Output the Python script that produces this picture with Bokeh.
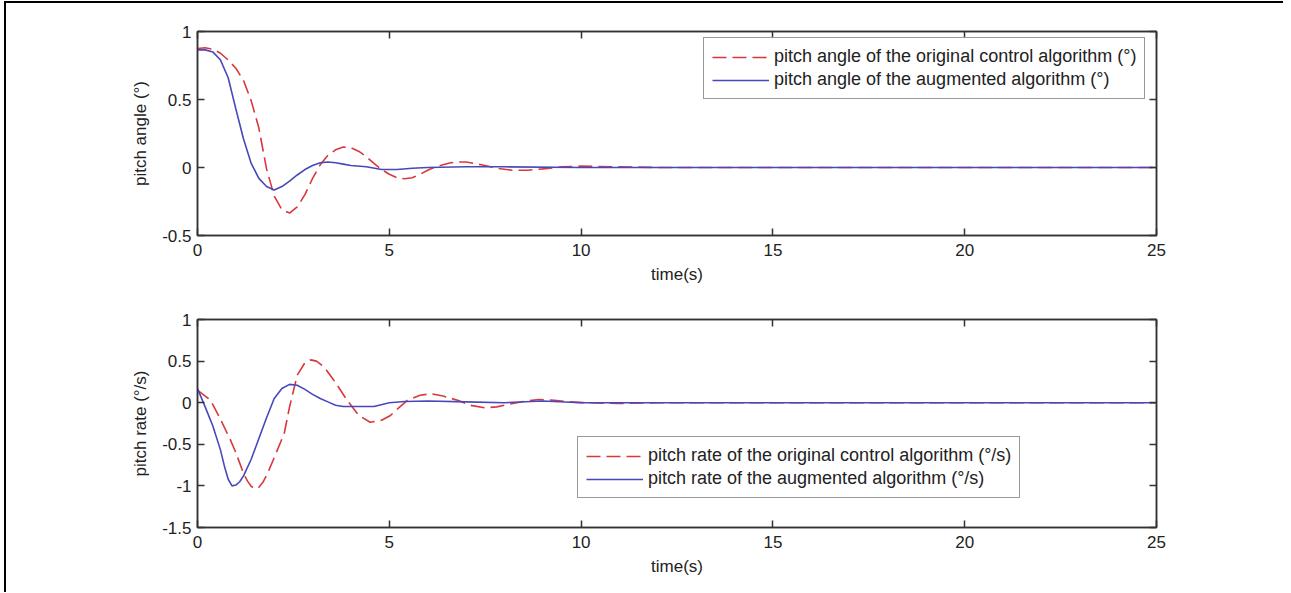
from bokeh.plotting import figure
from bokeh.models import Range1d, LinearAxis, FixedTicker, Legend, LegendItem, CustomJSTickFormatter
from bokeh.layouts import column
from bokeh.embed import file_html
from bokeh.resources import INLINE

# ---------------- data ----------------
x_ticks = [0, 5, 10, 15, 20, 25]
angle_ticks = [-0.5, 0, 0.5, 1]
rate_ticks = [-1.5, -1, -0.5, 0, 0.5, 1]

t_angle_orig = [0, 0.2, 0.4, 0.6, 0.8, 1.0, 1.2, 1.4, 1.6, 1.8, 2.0, 2.2, 2.4, 2.6, 2.8,
                3.0, 3.2, 3.4, 3.6, 3.8, 4.0, 4.2, 4.4, 4.6, 4.8, 5.0, 5.2, 5.4, 5.6, 5.8,
                6.0, 6.2, 6.4, 6.6, 6.8, 7.0, 7.4, 7.8, 8.2, 8.6, 9.0, 9.5, 10, 11, 12, 14, 25]
angle_orig = [0.875, 0.88, 0.87, 0.84, 0.79, 0.73, 0.64, 0.49, 0.29, -0.01, -0.21, -0.31, -0.335,
              -0.29, -0.20, -0.08, 0.02, 0.09, 0.13, 0.15, 0.145, 0.12, 0.08, 0.03, -0.015, -0.05,
              -0.075, -0.083, -0.075, -0.05, -0.02, 0.005, 0.02, 0.035, 0.04, 0.04, 0.02, -0.005,
              -0.02, -0.02, -0.01, 0.005, 0.01, 0.005, 0.0, 0.0, 0.0]

t_angle_aug = [0, 0.2, 0.4, 0.6, 0.8, 1.0, 1.2, 1.4, 1.6, 1.8, 2.0, 2.2, 2.4, 2.6, 2.8, 3.0,
               3.2, 3.4, 3.6, 3.8, 4.0, 4.4, 4.8, 5.2, 5.6, 6.0, 7.0, 8.0, 10, 25]
angle_aug = [0.865, 0.865, 0.85, 0.79, 0.66, 0.43, 0.21, 0.03, -0.08, -0.14, -0.165, -0.14,
             -0.10, -0.055, -0.015, 0.015, 0.035, 0.04, 0.035, 0.025, 0.015, 0.005, -0.015,
             -0.015, -0.005, 0.0, 0.005, 0.005, 0.0, 0.0]

t_rate_orig = [0, 0.2, 0.34, 0.6, 0.86, 1.0, 1.2, 1.3, 1.4, 1.5, 1.6, 1.7, 1.82, 2.0, 2.26, 2.4, 2.6,
               2.8, 2.95, 3.1, 3.3, 3.6, 3.9, 4.2, 4.5, 4.8, 5.03, 5.2, 5.47, 5.8, 6.1, 6.4,
               6.8, 7.1, 7.5, 7.8, 8.1, 8.5, 8.9, 9.3, 9.7, 10.1, 11, 12, 25]
rate_orig = [0.15, 0.08, 0.03, -0.2, -0.45, -0.6, -0.85, -0.94, -1.005, -1.035, -1.015, -0.96,
             -0.855, -0.66, -0.37, -0.05, 0.33, 0.48, 0.515, 0.5, 0.43, 0.24, 0.03, -0.15,
             -0.235, -0.21, -0.154, -0.08, 0.027, 0.09, 0.107, 0.08, 0.027, -0.03, -0.062,
             -0.05, -0.02, 0.015, 0.038, 0.03, 0.01, 0.0, -0.01, 0.0, 0.0]

t_rate_aug = [0, 0.2, 0.4, 0.6, 0.7, 0.8, 0.9, 1.0, 1.1, 1.2, 1.4, 1.6, 1.8, 2.0, 2.2, 2.4, 2.6, 2.8,
              3.0, 3.2, 3.4, 3.6, 3.8, 4.2, 4.6, 5.0, 5.4, 6.0, 7.0, 8.0, 9.0, 10, 25]
rate_aug = [0.17, -0.05, -0.28, -0.57, -0.76, -0.92, -1.0, -0.99, -0.95, -0.88, -0.68, -0.43,
            -0.18, 0.05, 0.17, 0.22, 0.21, 0.16, 0.10, 0.05, 0.01, -0.03, -0.045, -0.045,
            -0.045, 0.0, 0.015, 0.02, 0.01, 0.0, 0.02, 0.0, 0.0]

RED = "#d8383c"
BLUE = "#4848bc"
FONT = "Liberation Sans"
AXC = "#333333"


def blank_formatter():
    return CustomJSTickFormatter(code="return ''")


def make_fig(height, top_b, bottom_b, yrange, yticks, ylabel):
    p = figure(width=1277, height=height, x_range=Range1d(0, 25), y_range=Range1d(*yrange),
               output_backend="svg", toolbar_location=None,
               min_border_left=191, min_border_right=127,
               min_border_top=top_b, min_border_bottom=bottom_b)
    p.xgrid.visible = False
    p.ygrid.visible = False
    p.outline_line_color = AXC
    p.outline_line_width = 1.5
    p.background_fill_color = "white"
    p.border_fill_color = "white"

    for ax in p.xaxis:
        ax.ticker = FixedTicker(ticks=x_ticks)
        ax.major_label_overrides = {v: str(v) for v in x_ticks}
        ax.axis_label = "time(s)"
    for ax in p.yaxis:
        ax.ticker = FixedTicker(ticks=yticks)
        ax.major_label_overrides = {v: ("%g" % v) for v in yticks}
        ax.axis_label = ylabel

    top = LinearAxis(ticker=FixedTicker(ticks=x_ticks), formatter=blank_formatter())
    right = LinearAxis(ticker=FixedTicker(ticks=yticks), formatter=blank_formatter())
    p.add_layout(top, "above")
    p.add_layout(right, "right")

    for ax in p.axis:
        ax.axis_line_color = AXC
        ax.axis_line_width = 1.5
        ax.major_tick_line_color = AXC
        ax.major_tick_line_width = 1.5
        ax.major_tick_in = 7
        ax.major_tick_out = 0
        ax.minor_tick_line_color = None
        ax.major_label_text_font = FONT
        ax.major_label_text_font_size = "17px"
        ax.major_label_text_color = "#222222"
        ax.axis_label_text_font = FONT
        ax.axis_label_text_font_size = "17px"
        ax.axis_label_text_font_style = "normal"
        ax.axis_label_text_color = "#222222"
    for ax in p.xaxis:
        ax.major_label_standoff = 8
        ax.axis_label_standoff = 6
    for ax in p.yaxis:
        ax.major_label_standoff = 6
        ax.axis_label_standoff = 9
    return p


def style_legend(leg):
    leg.label_text_font = FONT
    leg.label_text_font_size = "18px"
    leg.label_text_color = "#222222"
    leg.glyph_width = 57
    leg.glyph_height = 20
    leg.label_height = 20
    leg.label_standoff = 5
    leg.padding = 8
    leg.spacing = 2
    leg.margin = 0
    leg.border_line_color = AXC
    leg.border_line_width = 1.5
    leg.background_fill_color = "white"


# ---------------- top: pitch angle ----------------
p1 = make_fig(293, 28, 61, (-0.5, 1), angle_ticks, "pitch angle (°)")
r1 = p1.line(t_angle_orig, angle_orig, line_color=RED, line_width=1.6, line_dash="14 6")
r2 = p1.line(t_angle_aug, angle_aug, line_color=BLUE, line_width=1.6)
leg1 = Legend(items=[LegendItem(label="pitch angle of the original control algorithm (°)", renderers=[r1]),
                     LegendItem(label="pitch angle of the augmented algorithm (°)", renderers=[r2])],
              location=(506, 136))
style_legend(leg1)
p1.add_layout(leg1)

# ---------------- bottom: pitch rate ----------------
p2 = make_fig(296, 23, 65, (-1.5, 1), rate_ticks, "pitch rate (°/s)")
r3 = p2.line(t_rate_orig, rate_orig, line_color=RED, line_width=1.6, line_dash="14 6")
r4 = p2.line(t_rate_aug, rate_aug, line_color=BLUE, line_width=1.6)
leg2 = Legend(items=[LegendItem(label="pitch rate of the original control algorithm (°/s)", renderers=[r3]),
                     LegendItem(label="pitch rate of the augmented algorithm (°/s)", renderers=[r4])],
              location=(380, 29))
style_legend(leg2)
p2.add_layout(leg2)

# thin black page border on the left and top edges, as in the scanned figure
layout = column(p1, p2, spacing=0,
                styles={"border-left": "2px solid black", "border-top": "2px solid black",
                        "margin-left": "4px", "margin-top": "1px"})
open("out.html", "w").write(file_html(layout, INLINE))
